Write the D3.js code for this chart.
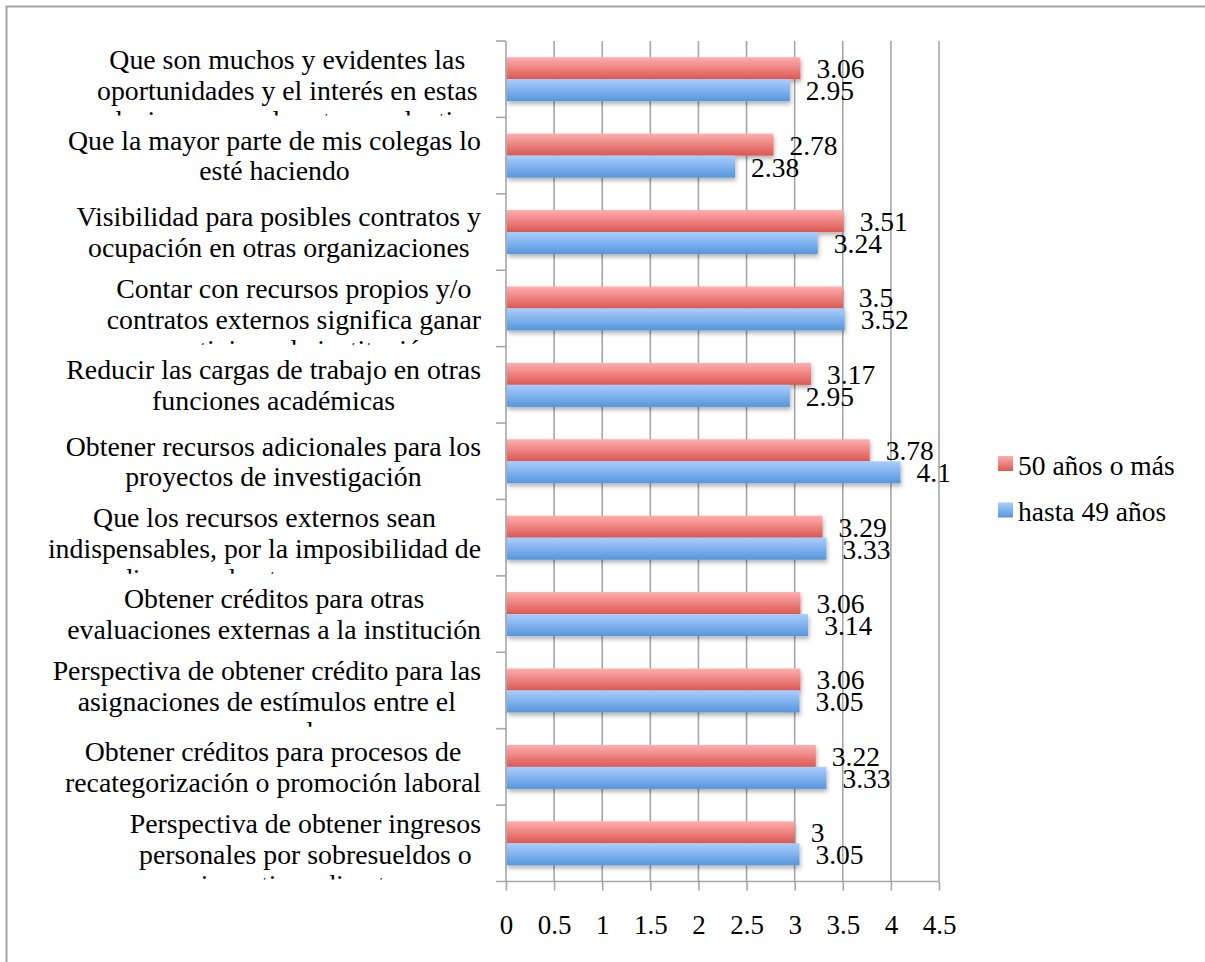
<!DOCTYPE html>
<html>
<head>
<meta charset="utf-8">
<script src="https://cdn.jsdelivr.net/npm/d3@7"></script>
<style>
  html, body { margin: 0; padding: 0; background: #fff; }
  svg { display: block; font-family: "Liberation Serif", "Times New Roman", serif; }
</style>
</head>
<body>
<div id="chart"></div>
<script>
// Category labels, already broken into lines as they wrap in the label column
const categoryLines = [
  ["Que son muchos y evidentes las", "oportunidades y el interés en estas", "relaciones con el sector productivo"],
  ["Que la mayor parte de mis colegas lo", "esté haciendo"],
  ["Visibilidad para posibles contratos y", "ocupación en otras organizaciones"],
  ["Contar con recursos propios y/o", "contratos externos significa ganar", "prestigio en la institución"],
  ["Reducir las cargas de trabajo en otras", "funciones académicas"],
  ["Obtener recursos adicionales para los", "proyectos de investigación"],
  ["Que los recursos externos sean", "indispensables, por la imposibilidad de", "disponer de otros recursos"],
  ["Obtener créditos para otras", "evaluaciones externas a la institución"],
  ["Perspectiva de obtener crédito para las", "asignaciones de estímulos entre el", "personal"],
  ["Obtener créditos para procesos de", "recategorización o promoción laboral"],
  ["Perspectiva de obtener ingresos", "personales por sobresueldos o", "incentivos directos"]
];
const categories = categoryLines.map(l => l.join(" "));

const seriesNames = ["50 años o más", "hasta 49 años"];
const values50plus = [3.06, 2.78, 3.51, 3.5, 3.17, 3.78, 3.29, 3.06, 3.06, 3.22, 3];
const valuesUpTo49 = [2.95, 2.38, 3.24, 3.52, 2.95, 4.1, 3.33, 3.14, 3.05, 3.33, 3.05];
const xTicks = [0, 0.5, 1, 1.5, 2, 2.5, 3, 3.5, 4, 4.5];

const W = 1205, H = 962;
const plot = { left: 506, right: 939, top: 41, bottom: 881.5 };
const labelRight = 481;
const FONT = 27.8;

const svg = d3.select("#chart").append("svg")
  .attr("width", W).attr("height", H);

const defs = svg.append("defs");

function gradient(id, top, bottom) {
  const g = defs.append("linearGradient").attr("id", id)
    .attr("x1", 0).attr("y1", 0).attr("x2", 0).attr("y2", 1);
  g.append("stop").attr("offset", "0%").attr("stop-color", top);
  g.append("stop").attr("offset", "100%").attr("stop-color", bottom);
}
gradient("gradRed", "#ffaeae", "#dc5852");
gradient("gradBlue", "#a9ceff", "#5596dc");
const fills = ["url(#gradRed)", "url(#gradBlue)"];

const shadow = defs.append("filter").attr("id", "barShadow")
  .attr("x", "-5%").attr("y", "-30%").attr("width", "110%").attr("height", "180%");
shadow.append("feDropShadow")
  .attr("dx", 1).attr("dy", 3).attr("stdDeviation", 2)
  .attr("flood-color", "#000").attr("flood-opacity", 0.3);

// Outer frame of the chart object
svg.append("rect")
  .attr("x", 6.5).attr("y", 6.5).attr("width", W + 20).attr("height", H + 20)
  .attr("fill", "none").attr("stroke", "#a3a3a3").attr("stroke-width", 2);

const x = d3.scaleLinear().domain([0, 4.5]).range([plot.left, plot.right]);
const y0 = d3.scaleBand().domain(categories).range([plot.top, plot.bottom]).padding(0);
const y1 = d3.scaleBand().domain(seriesNames).range([0, y0.bandwidth()])
  .paddingInner(0).paddingOuter(0.737);

// Vertical gridlines
svg.append("g").selectAll("line")
  .data(xTicks.filter(t => t > 0))
  .join("line")
  .attr("x1", d => x(d)).attr("x2", d => x(d))
  .attr("y1", plot.top).attr("y2", plot.bottom)
  .attr("stroke", "#a6a6a6").attr("stroke-width", 1.6);

// Axes
const xAxis = svg.append("g")
  .attr("transform", `translate(0,${plot.bottom})`)
  .call(d3.axisBottom(x).tickValues(xTicks).tickFormat(d => String(d)).tickSize(9).tickPadding(24));
xAxis.select(".domain").remove();
xAxis.append("line")
  .attr("x1", plot.left - 10).attr("x2", plot.right)
  .attr("stroke", "#a6a6a6").attr("stroke-width", 1.6);
xAxis.selectAll(".tick line").attr("stroke", "#a6a6a6").attr("stroke-width", 1.6);
xAxis.selectAll(".tick text")
  .attr("font-size", 27).attr("fill", "#000")
  .style("font-family", "Liberation Serif, serif");

const yAxis = svg.append("g")
  .attr("transform", `translate(${plot.left},0)`);
yAxis.append("line")
  .attr("y1", plot.top).attr("y2", plot.bottom)
  .attr("stroke", "#a6a6a6").attr("stroke-width", 1.6);
yAxis.selectAll(".cat-tick")
  .data(categories)
  .join("line")
  .attr("class", "cat-tick")
  .attr("x1", -10).attr("x2", 0)
  .attr("y1", d => y0(d)).attr("y2", d => y0(d))
  .attr("stroke", "#a6a6a6").attr("stroke-width", 1.6);

// Category labels: each block is right aligned to the label column,
// lines centred inside it, overflowing lines clipped at the band edge
const labels = svg.append("g").attr("font-size", FONT).attr("fill", "#000");
categoryLines.forEach((lines, i) => {
  const top = y0(categories[i]);
  const clipId = "clipCat" + i;
  defs.append("clipPath").attr("id", clipId)
    .append("rect").attr("x", 0).attr("y", top - 8)
    .attr("width", labelRight + 10).attr("height", y0.bandwidth() + 6);
  const g = labels.append("g").attr("clip-path", `url(#${clipId})`);
  const texts = lines.map((t, j) => g.append("text").text(t)
    .attr("text-anchor", "middle")
    .attr("y", top + (lines.length > 2 ? 28 : 32.5) + 30.5 * j));
  const widest = d3.max(texts, t => t.node().getComputedTextLength());
  texts.forEach(t => t.attr("x", labelRight - widest / 2));
});

// Bars
const rows = categories.map((c, i) => ({
  cat: c,
  vals: [
    { s: seriesNames[0], v: values50plus[i] },
    { s: seriesNames[1], v: valuesUpTo49[i] }
  ]
}));

const groups = svg.append("g").selectAll("g")
  .data(rows).join("g")
  .attr("transform", d => `translate(0,${y0(d.cat)})`);

// the blue series comes last so its shadow sits over the red bar
groups.selectAll("rect")
  .data(d => d.vals)
  .join("rect")
  .attr("x", x(0) + 1)
  .attr("y", d => y1(d.s))
  .attr("width", d => x(d.v) - x(0) - 1)
  .attr("height", y1.bandwidth())
  .attr("fill", (d, i) => fills[i])
  .attr("filter", "url(#barShadow)");

groups.selectAll("text")
  .data(d => d.vals)
  .join("text")
  .attr("x", d => x(d.v) + 16)
  .attr("y", d => y1(d.s) + y1.bandwidth() / 2 + 10)
  .attr("font-size", 27.5)
  .attr("fill", "#000")
  .text(d => String(d.v));

// Legend
const legend = svg.append("g").attr("transform", "translate(998,456)");
seriesNames.forEach((name, i) => {
  const row = legend.append("g").attr("transform", `translate(0,${i * 46.5})`);
  row.append("rect").attr("width", 15).attr("height", 15).attr("fill", fills[i]);
  row.append("text").attr("x", 20).attr("y", 18.5)
    .attr("font-size", 27.5).attr("fill", "#000").text(name);
});
</script>
</body>
</html>
